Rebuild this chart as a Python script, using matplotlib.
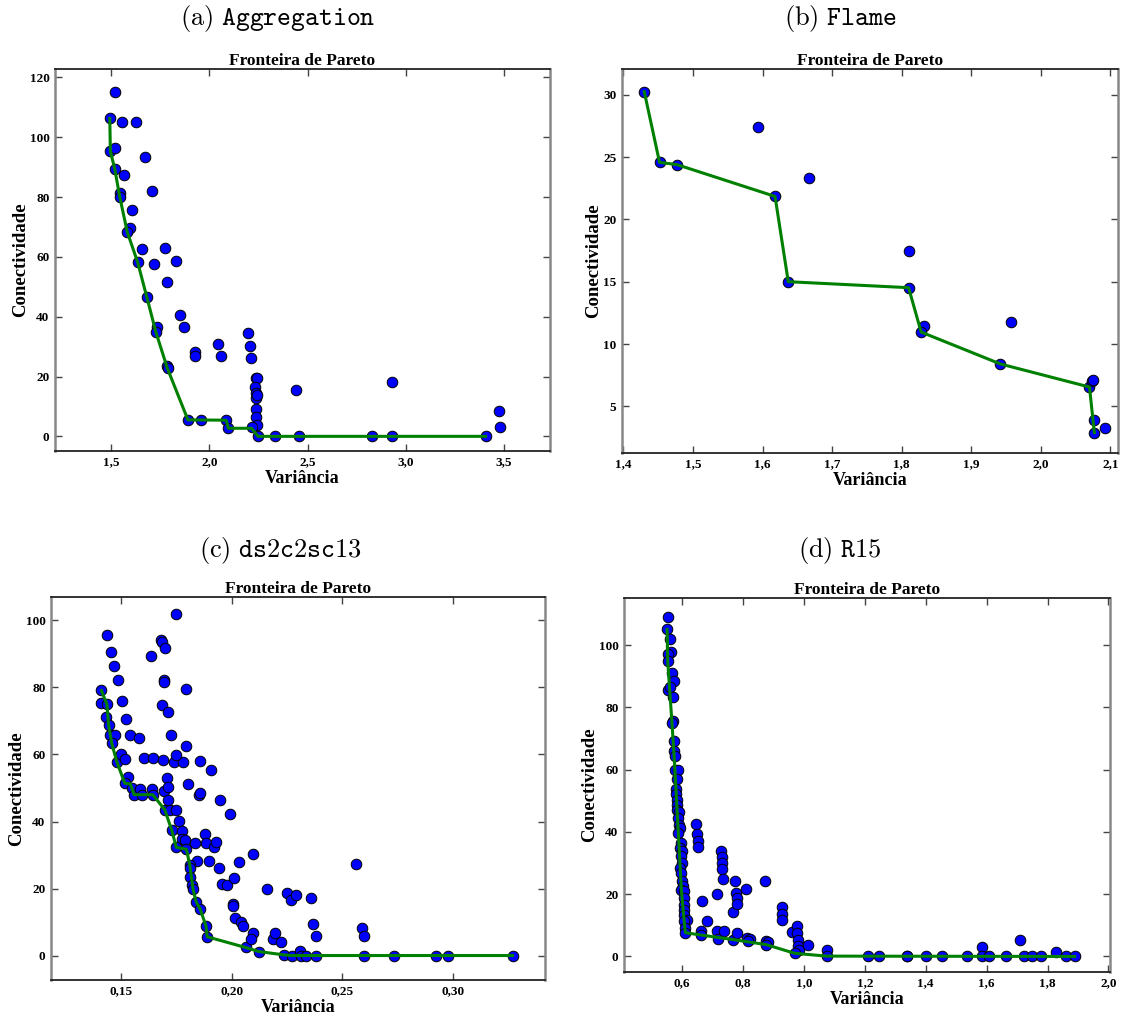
import matplotlib
matplotlib.use("Agg")
import matplotlib.pyplot as plt
from matplotlib.ticker import FuncFormatter, MultipleLocator

# ---- (a) Aggregation
agg_var = [1.493, 1.522, 1.555, 1.628, 1.496, 1.518, 1.673, 1.518, 1.564, 1.544, 1.544, 1.710,
           1.604, 1.595, 1.582, 1.659, 1.772, 1.635, 1.717, 1.832, 1.786, 1.681, 1.852, 1.734,
           1.728, 1.872, 1.785, 1.787, 1.925, 1.929, 2.044, 2.060, 2.199, 2.206, 2.210, 2.237,
           2.245, 2.235, 2.240, 2.237, 2.245, 2.238, 2.238, 2.245, 2.215, 2.248, 2.443, 2.929,
           3.473, 3.478, 1.891, 1.960, 2.086, 2.097, 2.334, 2.458, 2.828, 2.931, 3.407]
agg_con = [106.3, 115.1, 105.0, 105.0, 95.3, 96.4, 93.3, 89.5, 87.5, 81.5, 80.0, 82.0,
           75.8, 69.7, 68.3, 62.7, 63.1, 58.2, 57.6, 58.6, 51.5, 46.7, 40.4, 36.7,
           34.8, 36.6, 23.6, 22.8, 28.3, 26.8, 30.9, 26.8, 34.6, 30.3, 26.1, 19.5,
           19.5, 16.6, 14.4, 12.9, 13.9, 9.0, 6.5, 3.8, 3.0, 0.0, 15.6, 18.0,
           8.6, 3.0, 5.5, 5.5, 5.4, 2.9, 0.0, 0.0, 0.0, 0.0, 0.0]
agg_front_var = [1.493, 1.496, 1.518, 1.544, 1.582, 1.635, 1.681, 1.728, 1.786, 1.891, 2.086,
                 2.097, 2.215, 2.248, 3.407]
agg_front_con = [106.3, 95.3, 89.5, 80.0, 68.3, 58.2, 46.7, 34.8, 22.8, 5.5, 5.4,
                 2.7, 2.7, 0.0, 0.0]

# ---- (b) Flame
flame_var = [1.430, 1.452, 1.477, 1.593, 1.618, 1.667, 1.637, 1.810, 1.810, 1.832, 1.828,
             1.942, 1.957, 2.070, 2.074, 2.075, 2.076, 2.077, 2.092]
flame_con = [30.24, 24.57, 24.39, 27.4, 21.84, 23.34, 15.0, 17.5, 14.52, 11.47, 10.96,
             8.40, 11.74, 6.55, 7.0, 7.09, 3.90, 2.89, 3.24]
flame_front_var = [1.430, 1.452, 1.477, 1.618, 1.637, 1.810, 1.828, 1.942, 2.070, 2.077]
flame_front_con = [30.24, 24.57, 24.39, 21.84, 15.0, 14.52, 10.96, 8.40, 6.55, 2.89]

# ---- (c) ds2c2sc13
ds_var = [0.1409, 0.1409, 0.1434, 0.1432, 0.1442, 0.1435, 0.1453, 0.1466, 0.1484, 0.1503,
          0.1519, 0.1447, 0.1471, 0.1456, 0.1539, 0.1578, 0.1479, 0.1497, 0.1518, 0.1602,
          0.1642, 0.1689, 0.1736, 0.1778, 0.1749, 0.1793, 0.1856, 0.1906, 0.1531, 0.1515,
          0.1547, 0.1557, 0.1586, 0.1592, 0.1636, 0.1642, 0.1691, 0.1704, 0.1709, 0.1712,
          0.1696, 0.1718, 0.1746, 0.1761, 0.1727, 0.1773, 0.1772, 0.1788, 0.1748, 0.1794,
          0.1803, 0.1853, 0.1856, 0.1880, 0.1883, 0.1833, 0.1917, 0.1929, 0.1843, 0.1896,
          0.1809, 0.1812, 0.1943, 0.1947, 0.1992, 0.2034, 0.2096, 0.1812, 0.1819, 0.1824,
          0.1953, 0.1979, 0.2008, 0.2160, 0.1838, 0.1856, 0.2003, 0.2003, 0.2016, 0.2040,
          0.2050, 0.1883, 0.1888, 0.2062, 0.2094, 0.2087, 0.2121, 0.2186, 0.2196, 0.2223,
          0.2235, 0.2249, 0.2269, 0.2291, 0.2359, 0.2369, 0.2380, 0.2273, 0.2309, 0.2311,
          0.2337, 0.2382, 0.2562, 0.2587, 0.2597, 0.2599, 0.2733, 0.2924, 0.2977, 0.3270,
          0.1749, 0.1681, 0.1684, 0.1697, 0.1633, 0.1691, 0.1694, 0.1794, 0.1684, 0.1709,
          0.1725]
ds_con = [79.1, 75.5, 75.0, 71.3, 68.7, 95.6, 90.7, 86.3, 82.3, 76.1,
          70.6, 65.7, 65.7, 63.3, 65.7, 64.9, 57.8, 60.1, 58.6, 58.9,
          58.9, 58.4, 57.7, 57.7, 59.7, 62.4, 58.2, 55.4, 53.2, 51.4,
          49.9, 48.0, 49.7, 48.0, 49.7, 48.0, 49.2, 52.9, 50.2, 46.3,
          43.5, 43.5, 43.3, 40.2, 37.5, 37.2, 34.7, 34.5, 32.3, 31.7,
          51.3, 47.9, 48.5, 36.3, 33.7, 33.7, 32.5, 34.0, 28.3, 28.3,
          27.1, 26.2, 26.1, 46.5, 42.1, 28.0, 30.4, 23.4, 21.0, 19.8,
          21.3, 21.1, 23.1, 19.9, 16.0, 13.9, 15.3, 14.7, 11.1, 9.9,
          8.8, 8.7, 5.6, 2.4, 6.6, 4.9, 1.2, 4.9, 6.7, 3.9,
          0.2, 18.6, 16.5, 18.1, 17.2, 9.5, 5.7, 0.0, 1.4, 0.0,
          0.0, 0.0, 27.4, 8.2, 5.8, 0.0, 0.0, 0.0, 0.0, 0.0,
          102.0, 94.2, 93.7, 91.7, 89.5, 82.3, 81.5, 79.6, 74.7, 72.8,
          65.9]
ds_front_var = [0.1409, 0.1434, 0.1442, 0.1456, 0.1479, 0.1515, 0.1540, 0.1557, 0.1642, 0.1696,
                0.1727, 0.1748, 0.1794, 0.1809, 0.1824, 0.1838, 0.1856, 0.1883, 0.1888, 0.2062,
                0.2121, 0.2235, 0.2273, 0.3270]
ds_front_con = [79.1, 75.0, 68.7, 63.3, 57.8, 51.4, 51.2, 48.0, 48.0, 43.5,
                37.5, 32.3, 31.7, 27.1, 19.8, 16.0, 13.9, 8.7, 5.6, 2.4,
                1.2, 0.2, 0.0, 0.0]

# ---- (d) R15
r15_var = [0.555, 0.551, 0.560, 0.563, 0.555, 0.553, 0.568, 0.573, 0.555, 0.562,
           0.569, 0.572, 0.567, 0.575, 0.573, 0.576, 0.578, 0.587, 0.585, 0.580,
           0.580, 0.582, 0.583, 0.585, 0.589, 0.586, 0.591, 0.593, 0.588, 0.595,
           0.593, 0.599, 0.595, 0.600, 0.594, 0.596, 0.599, 0.602, 0.598, 0.606,
           0.605, 0.605, 0.607, 0.605, 0.615, 0.606, 0.611, 0.611, 0.646, 0.649,
           0.651, 0.651, 0.664, 0.663, 0.663, 0.682, 0.714, 0.715, 0.717, 0.729,
           0.730, 0.730, 0.731, 0.734, 0.737, 0.767, 0.768, 0.775, 0.778, 0.781,
           0.782, 0.779, 0.809, 0.814, 0.822, 0.818, 0.873, 0.876, 0.883, 0.876,
           0.927, 0.929, 0.928, 0.962, 0.976, 0.979, 0.982, 0.982, 0.983, 0.970,
           1.015, 1.075, 1.075, 1.212, 1.247, 1.337, 1.340, 1.401, 1.453, 1.536,
           1.585, 1.586, 1.607, 1.662, 1.711, 1.723, 1.749, 1.779, 1.827, 1.860,
           1.889]
r15_con = [108.9, 105.0, 102.0, 97.6, 97.2, 94.8, 90.9, 88.6, 85.5, 86.4,
           83.2, 75.5, 74.9, 69.1, 66.1, 64.5, 60.0, 60.0, 56.9, 53.9,
           52.3, 50.2, 48.6, 47.0, 46.4, 44.3, 42.2, 41.1, 39.5, 36.5,
           34.7, 33.7, 32.1, 29.9, 28.3, 26.7, 24.1, 22.5, 21.2, 20.9,
           18.7, 16.6, 15.0, 13.4, 11.8, 11.3, 9.2, 7.6, 42.5, 39.3,
           37.2, 35.3, 17.9, 8.1, 7.0, 11.4, 20.0, 8.1, 5.6, 33.9,
           31.8, 29.9, 28.0, 24.8, 8.3, 14.3, 5.4, 24.1, 20.3, 18.7,
           16.8, 7.6, 21.6, 6.0, 5.6, 5.1, 24.3, 4.9, 4.6, 3.8,
           15.8, 13.7, 11.6, 8.0, 9.7, 7.6, 5.4, 3.3, 2.2, 1.0,
           3.7, 2.1, 0.1, 0.0, 0.0, 0.0, 0.0, 0.0, 0.0, 0.0,
           2.9, 0.0, 0.0, 0.0, 5.4, 0.0, 0.0, 0.0, 1.4, 0.0,
           0.0]
r15_front_var = [0.551, 0.553, 0.567, 0.573, 0.580, 0.588, 0.594, 0.598, 0.605, 0.611,
                 0.768, 0.876, 0.970, 1.075, 1.889]
r15_front_con = [105.0, 94.8, 74.9, 66.1, 53.9, 39.5, 28.3, 21.2, 13.4, 7.6,
                 5.4, 3.8, 1.0, 0.1, 0.0]

plt.rcParams["font.family"] = ["Liberation Serif", "DejaVu Serif"]
plt.rcParams["font.weight"] = "bold"
plt.rcParams["mathtext.fontset"] = "cm"

W, H = 1124, 1018
fig = plt.figure(figsize=(W / 100, H / 100), dpi=100)


def box(l, t, r, b):
    return [l / W, 1 - b / H, (r - l) / W, (b - t) / H]


def comma(dec):
    return FuncFormatter(lambda v, _: f"{v:.{dec}f}".replace(".", ","))


panels = [
    (box(55, 69, 550, 451), agg_var, agg_con, agg_front_var, agg_front_con,
     (1.214, 3.735), (-4.9, 122.8), 0.5, 20, 1, 0),
    (box(622, 69, 1118, 453), flame_var, flame_con, flame_front_var, flame_front_con,
     (1.398, 2.111), (1.26, 32.06), 0.1, 5, 1, 0),
    (box(51, 597, 545, 980), ds_var, ds_con, ds_front_var, ds_front_con,
     (0.1181, 0.3417), (-7.3, 107.0), 0.05, 20, 2, 0),
    (box(624, 598, 1110, 972), r15_var, r15_con, r15_front_var, r15_front_con,
     (0.4095, 2.005), (-5.0, 115.1), 0.2, 20, 1, 0),
]

for rect, xs, ys, fx, fy, xlim, ylim, xstep, ystep, xdec, ydec in panels:
    ax = fig.add_axes(rect)
    ax.scatter(xs, ys, s=58, c="#0000ff", edgecolors="black", linewidths=0.7, zorder=2)
    ax.plot(fx, fy, color="#008000", lw=2.2, zorder=3)
    ax.set_xlim(*xlim)
    ax.set_ylim(*ylim)
    ax.xaxis.set_major_locator(MultipleLocator(xstep))
    ax.yaxis.set_major_locator(MultipleLocator(ystep))
    ax.xaxis.set_major_formatter(comma(xdec))
    ax.yaxis.set_major_formatter(comma(ydec))
    ax.tick_params(direction="in", top=True, right=True, length=5, width=1,
                   labelsize=9.5, pad=4, color="#444444")
    for lab in ax.get_xticklabels() + ax.get_yticklabels():
        lab.set_fontweight("bold")
    for side in ("left", "right"):
        ax.spines[side].set_color("#888888")
        ax.spines[side].set_linewidth(1.8)
    for side in ("top", "bottom"):
        ax.spines[side].set_color("#222222")
        ax.spines[side].set_linewidth(1.3)
    ax.set_title("Fronteira de Pareto", fontsize=12.5, fontweight="bold", pad=3)
    ax.set_xlabel("Variância", fontsize=13, fontweight="bold", labelpad=1)
    ax.set_ylabel("Conectividade", fontsize=13.5, fontweight="bold", labelpad=0.5)

captions = [(278, 18, r"$\mathrm{(a)}\ \mathtt{Aggregation}$"),
            (840, 18, r"$\mathrm{(b)}\ \mathtt{Flame}$"),
            (280, 550, r"$\mathrm{(c)}\ \mathtt{ds2c2sc13}$"),
            (840, 550, r"$\mathrm{(d)}\ \mathtt{R15}$")]
for cx, cy, txt in captions:
    fig.text(cx / W, 1 - cy / H, txt, ha="center", va="center", fontsize=19)

fig.savefig("out.png", dpi=100)
